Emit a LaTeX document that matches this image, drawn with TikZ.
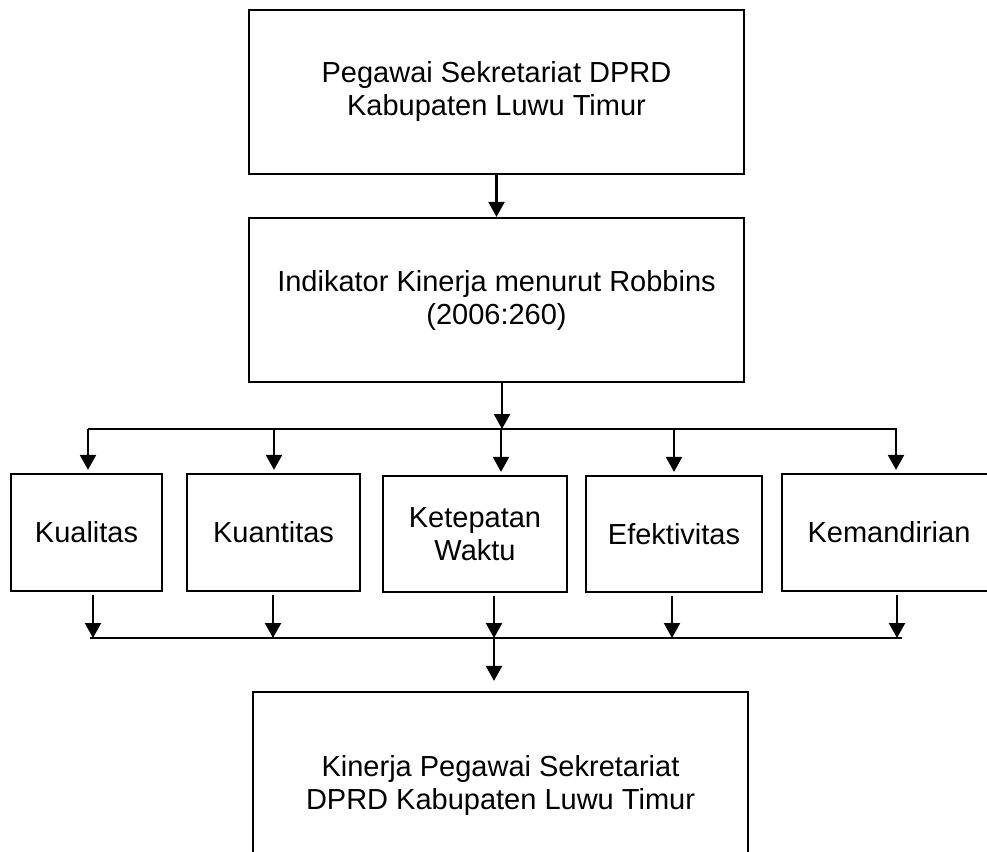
\documentclass[tikz,border=0pt]{standalone}
\usepackage{fontspec}
\setmainfont{Liberation Sans}
\usetikzlibrary{arrows.meta}
\tikzset{
  box/.style={draw, line width=2.2pt, align=center, inner sep=0pt,
    font=\fontsize{29}{33}\selectfont},
  arr/.style={line width=2.2pt, -{Triangle[length=15pt,width=16pt]}}
}
\begin{document}
\begin{tikzpicture}[x=1pt, y=1pt]
  \clip (0,0) rectangle (987,-851);
  % Main chain
  \node[box, minimum width=495pt, minimum height=164pt] (peg) at (496.5,-92)
    {Pegawai Sekretariat DPRD\\Kabupaten Luwu Timur};
  \node[box, minimum width=495pt, minimum height=164pt] (ind) at (496.5,-300)
    {Indikator Kinerja menurut Robbins\\(2006:260)};

  % Indicators
  \node[box, minimum width=151pt, minimum height=117pt] (kual) at (86.5,-532.5) {Kualitas};
  \node[box, minimum width=173pt, minimum height=117pt] (kuan) at (273.5,-532.5) {Kuantitas};
  \node[box, minimum width=184pt, minimum height=116pt] (ket) at (475,-534) {Ketepatan\\Waktu};
  \node[box, minimum width=176pt, minimum height=116pt] (efek) at (674,-534) {Efektivitas};
  \node[box, minimum width=214pt, minimum height=117pt] (mand) at (889,-532.5) {Kemandirian};

  % Result
  \node[box, minimum width=495pt, minimum height=186pt] (kin) at (500.5,-785)
    {Kinerja Pegawai Sekretariat\\DPRD Kabupaten Luwu Timur};

  \draw[arr] (peg) -- (ind);

  % Upper bus
  \coordinate (upL) at (88,-429);
  \coordinate (upR) at (897,-429);
  \draw[line width=2.2pt] (upL) -- (upR);
  \draw[arr] (ind.south -| 502,0) -- (502,-429);
  \foreach \x/\n in {88/kual, 274/kuan, 501/ket, 674/efek, 896/mand}
    \draw[arr, shorten >=3pt] (\x,-429) -- (\x,-429 |- \n.north);

  % Lower bus
  \coordinate (loL) at (90,-638);
  \coordinate (loR) at (902,-638);
  \draw[line width=2.2pt] (loL) -- (loR);
  \foreach \x/\n in {93/kual, 273/kuan, 494/ket, 672/efek, 897/mand}
    \draw[arr, shorten <=3pt] (\x,-638 |- \n.south) -- (\x,-638);
  \draw[arr, shorten >=10pt] (494,-638) -- (494,-638 |- kin.north);
\end{tikzpicture}
\end{document}
